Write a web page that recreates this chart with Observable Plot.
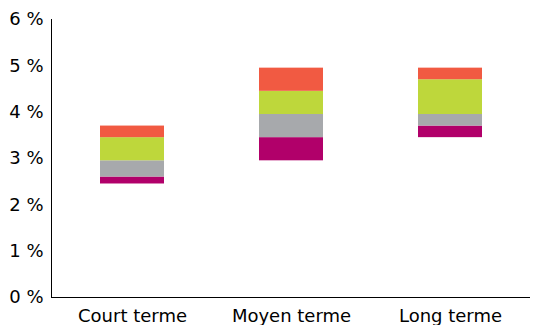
<!DOCTYPE html>
<html>
<head>
<meta charset="utf-8">
<script src="https://cdn.jsdelivr.net/npm/d3@7"></script>
<script src="https://cdn.jsdelivr.net/npm/@observablehq/plot@0.6"></script>
<style>
  html, body { margin: 0; padding: 0; background: #fff; }
  #chart svg { display: block; }
</style>
</head>
<body>
<div id="chart"></div>
<script>
const categories = ["Court terme", "Moyen terme", "Long terme"];
const bottom     = [2.45, 2.95, 3.45];
const magentaTop = [2.6, 3.45, 3.7];
const grayTop    = [2.95, 3.95, 3.95];
const greenTop   = [3.45, 4.45, 4.7];
const redTop     = [3.7, 4.95, 4.95];
const yTicks = [0, 1, 2, 3, 4, 5, 6];

const seriesNames = ["magenta", "gris", "vert", "rouge"];
const seriesColors = ["#B1006A", "#A7A9AC", "#BED73B", "#F15A42"];
const bounds = [bottom, magentaTop, grayTop, greenTop, redTop];

const rows = [];
categories.forEach((c, i) => {
  seriesNames.forEach((s, k) => {
    rows.push({cat: c, series: s, y1: bounds[k][i], y2: bounds[k + 1][i]});
  });
});

const chart = Plot.plot({
  width: 533,
  height: 325,
  marginLeft: 51,
  marginRight: 3,
  marginTop: 19,
  marginBottom: 28,
  style: {fontFamily: "DejaVu Sans", fontSize: "18px", color: "#000", background: "#fff"},
  x: {domain: categories, paddingInner: 0.6, paddingOuter: 0.3, label: null, tickSize: 0, tickPadding: 12},
  y: {domain: [0, 6], ticks: yTicks, tickFormat: d => d + "\u00a0%", label: null, tickSize: 0, tickPadding: 8, line: true},
  color: {domain: seriesNames, range: seriesColors},
  marks: [
    Plot.barY(rows, {x: "cat", y1: "y1", y2: "y2", fill: "series"}),
    Plot.ruleY([0], {stroke: "#000", strokeWidth: 1.2})
  ]
});
document.getElementById("chart").appendChild(chart);
</script>
</body>
</html>
